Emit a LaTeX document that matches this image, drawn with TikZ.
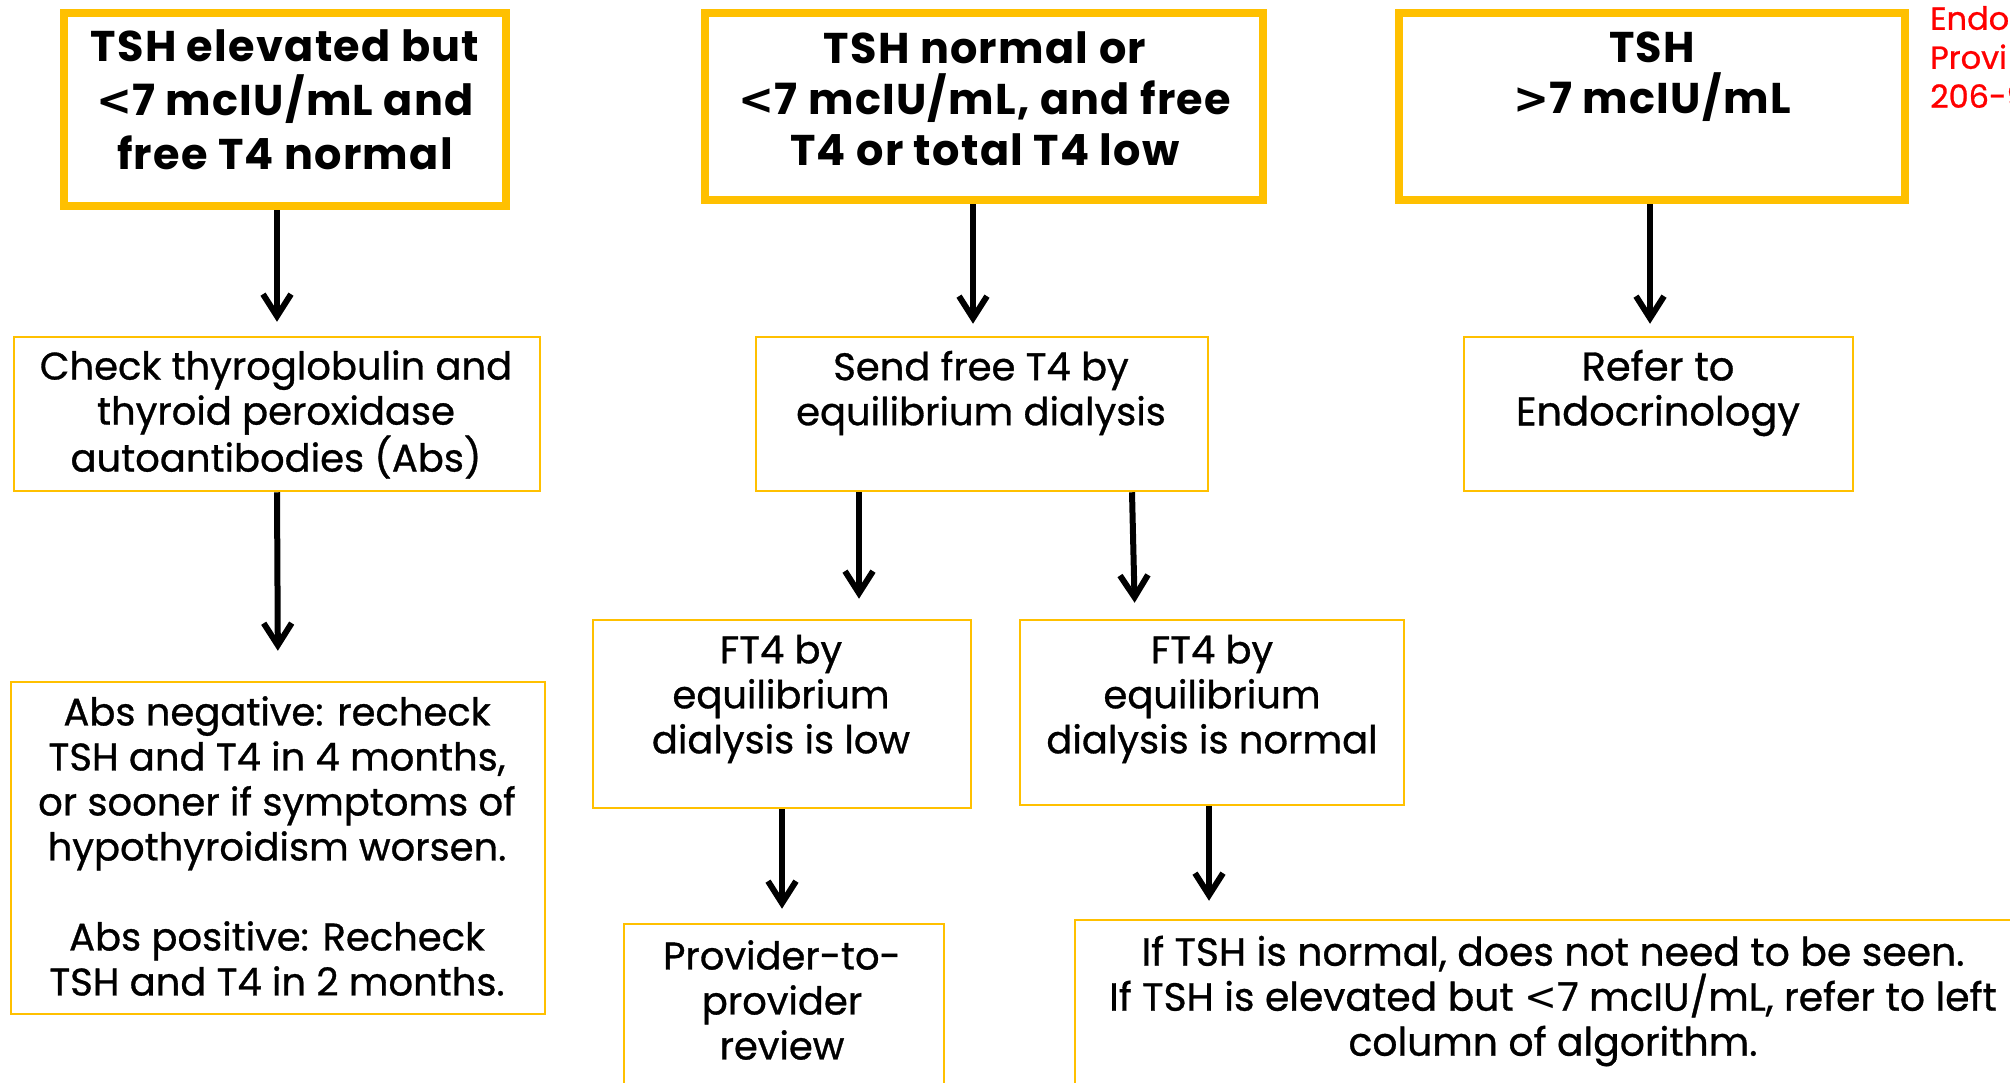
\documentclass[tikz,border=0pt]{standalone}
\usepackage{fontspec}
\setmainfont{Poppins}[LetterSpace=3]
\newfontfamily\midfont{Poppins}[FakeBold=0.8]
\newfontfamily\signfont{DejaVu Sans}
\newcommand{\ltsign}{{\signfont <}}
\newcommand{\gtsign}{{\signfont >}}
\usetikzlibrary{arrows.meta}
\definecolor{gold}{HTML}{FFC000}
\definecolor{alertred}{HTML}{FF0000}

\begin{document}
\begin{tikzpicture}[x=1pt,y=-1pt,
    boxsize/.style 2 args={minimum width=#1pt,minimum height=#2pt},
    headbox/.style={draw=gold,line width=8pt,inner sep=0pt},
    stepbox/.style={draw=gold,line width=2.5pt,inner sep=0pt},
    hdtxt/.style={font=\bfseries\fontsize{43}{54}\selectfont,align=center},
    bodytxt/.style={font=\midfont\fontsize{38.5}{45}\selectfont,align=center},
    arr/.style={line width=6pt,-{Straight Barb[length=22pt,width=28pt]}}]
            \useasboundingbox (0,0) rectangle (2010,1082);
            \clip (0,0) rectangle (2010,1082);
            % top row
            \node[headbox,boxsize={442}{193}] (elev) at (285,109.5) {};
            \node[headbox,boxsize={558}{187}] (low) at (984,106.5) {};
            \node[headbox,boxsize={506}{187}] (high) at (1652,106.5) {};
            \node[hdtxt] (elevtxt) at (285,100) {TSH elevated but\\\ltsign7 mcIU/mL and\\free T4 normal};
            \node[hdtxt,font=\bfseries\fontsize{43}{51}\selectfont] (lowtxt) at (985,98.5) {TSH normal or\\\ltsign7 mcIU/mL, and free\\T4 or total T4 low};
            \node[hdtxt,font=\bfseries\fontsize{43}{51}\selectfont] (hightxt) at (1652,76.5) {TSH\\\gtsign7 mcIU/mL};
            \node[font=\midfont\fontsize{32}{39}\selectfont,text=alertred,align=left,anchor=west,inner sep=0pt] (contact) at (1930,57) {Endo\\Provi\\206-9};
            % second row
            \node[stepbox,boxsize={526}{154}] (check) at (277,414) {};
            \node[stepbox,boxsize={452}{154}] (send) at (982,414) {};
            \node[stepbox,boxsize={389}{154}] (refer) at (1658.5,414) {};
            \node[bodytxt] (checktxt) at (276,414.5) {Check thyroglobulin and\\thyroid peroxidase\\autoantibodies (Abs)};
            \node[bodytxt] (sendtxt) at (981,393) {Send free T4 by\\equilibrium dialysis};
            \node[bodytxt,font=\midfont\fontsize{40}{45}\selectfont] (refertxt) at (1658,393) {Refer to\\Endocrinology};
            % third row
            \node[stepbox,boxsize={534}{332}] (recheck) at (278,848) {};
            \node[stepbox,boxsize={378}{188}] (ftlow) at (782,714) {};
            \node[stepbox,boxsize={384}{185}] (ftnorm) at (1212,712.5) {};
            \node[bodytxt] (rechecktxt) at (277,846) {Abs negative: recheck\\TSH and T4 in 4 months,\\or sooner if symptoms of\\hypothyroidism worsen.\\[45pt]Abs positive: Recheck\\TSH and T4 in 2 months.};
            \node[bodytxt] (ftlowtxt) at (781,699) {FT4 by\\equilibrium\\dialysis is low};
            \node[bodytxt] (ftnormtxt) at (1212,699) {FT4 by\\equilibrium\\dialysis is normal};
            % bottom row
            \node[stepbox,boxsize={320}{206}] (review) at (784,1027) {};
            \node[stepbox,boxsize={985}{210}] (advice) at (1567.5,1025) {};
            \node[bodytxt] (reviewtxt) at (782,1000) {Provider-to-\\provider\\review};
            \node[bodytxt,font=\midfont\fontsize{39.3}{45}\selectfont] (advicetxt) at (1553,1001) {If TSH is normal, does not need to be seen.\\If TSH is elevated but \ltsign7 mcIU/mL, refer to left\\column of algorithm.};
            % arrows
            \draw[arr,shorten >=14pt] ([xshift=-8pt]elev.south) -- (check.north);
            \draw[arr,shorten >=12pt] ([xshift=-11pt]low.south) -- ([xshift=-11pt]low.south |- send.north);
            \draw[arr,shorten >=12pt] ([xshift=-2pt]high.south) -- ([xshift=-2pt]high.south |- refer.north);
            \draw[arr,shorten >=30pt] (check.south) -- (recheck.north);
            \draw[arr,shorten >=20pt] ([xshift=-123pt]send.south) -- ([xshift=-123pt]send.south |- ftlow.north);
            \draw[arr,shorten >=16pt] ([xshift=150pt]send.south) -- ([xshift=-77pt]ftnorm.north);
            \draw[arr,shorten >=14pt] (ftlow.south) -- (ftlow.south |- review.north);
            \draw[arr,shorten >=18pt] ([xshift=-3pt]ftnorm.south) -- ([xshift=-3pt]ftnorm.south |- advice.north);
        \end{tikzpicture}
\end{document}
